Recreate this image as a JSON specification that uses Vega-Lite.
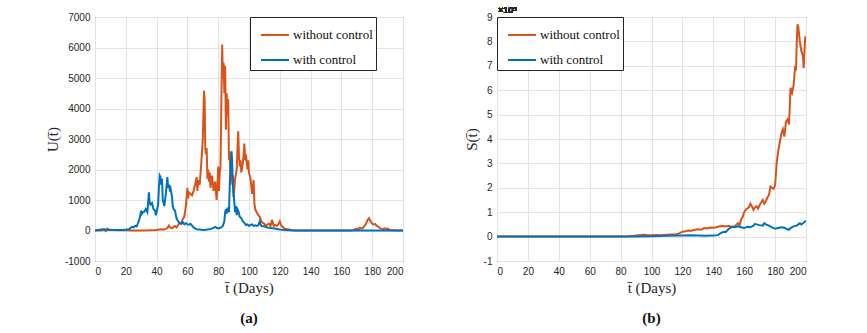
{
  "$schema": "https://vega.github.io/schema/vega-lite/v6.json",
  "background": "white",
  "padding": {"left": 44, "top": 5, "right": 5, "bottom": 5},
  "bounds": "flush",
  "spacing": 94,
  "config": {
    "font": "Liberation Sans",
    "view": {"stroke": "#262626", "strokeWidth": 1},
    "axis": {
      "grid": true, "gridColor": "#e3e3e3", "gridWidth": 1, "domain": false, "ticks": false, "labelOverlap": false,
      "labelFont": "Liberation Sans", "labelFontSize": 10, "labelColor": "#262626", "labelPadding": 5,
      "titleFont": "Liberation Serif", "titleFontWeight": "normal", "titleFontSize": 15, "titleColor": "#262626"
    },
    "legend": {
      "title": null, "strokeColor": "#262626", "fillColor": "white", "padding": 3,
      "symbolType": "stroke", "symbolSize": 784, "symbolStrokeWidth": 2, "symbolOffset": 7,
      "labelFont": "Liberation Serif", "labelFontSize": 13, "labelColor": "#111111", "labelOffset": 3, "rowPadding": 3
    },
    "title": {"font": "Liberation Serif", "fontSize": 15, "fontWeight": "bold", "color": "#111111", "orient": "bottom", "offset": 16}
  },
  "datasets": {
    "U": [
      {"t":0,"series":"without control","U":0},{"t":2,"series":"without control","U":10},{"t":4,"series":"without control","U":0},{"t":6,"series":"without control","U":20},{"t":7,"series":"without control","U":-20},{"t":8,"series":"without control","U":60},{"t":9,"series":"without control","U":30},{"t":12,"series":"without control","U":20},{"t":16,"series":"without control","U":10},{"t":20,"series":"without control","U":5},{"t":25,"series":"without control","U":0},{"t":30,"series":"without control","U":0},{"t":35,"series":"without control","U":5},{"t":40,"series":"without control","U":20},{"t":43,"series":"without control","U":40},{"t":45,"series":"without control","U":30},{"t":47,"series":"without control","U":80},{"t":48,"series":"without control","U":160},{"t":49,"series":"without control","U":90},{"t":50,"series":"without control","U":70},{"t":51,"series":"without control","U":120},{"t":52,"series":"without control","U":150},{"t":53,"series":"without control","U":100},{"t":54,"series":"without control","U":180},{"t":55,"series":"without control","U":250},{"t":56,"series":"without control","U":220},{"t":57,"series":"without control","U":380},{"t":58,"series":"without control","U":450},{"t":59,"series":"without control","U":800},{"t":60,"series":"without control","U":1400},{"t":60.5,"series":"without control","U":1050},{"t":61,"series":"without control","U":1250},{"t":62,"series":"without control","U":1200},{"t":63,"series":"without control","U":1150},{"t":64,"series":"without control","U":1300},{"t":65,"series":"without control","U":1500},{"t":66,"series":"without control","U":1750},{"t":66.5,"series":"without control","U":1300},{"t":67,"series":"without control","U":1650},{"t":68,"series":"without control","U":1500},{"t":69,"series":"without control","U":2200},{"t":70,"series":"without control","U":3000},{"t":70.8,"series":"without control","U":4580},{"t":71.2,"series":"without control","U":4300},{"t":71.6,"series":"without control","U":2700},{"t":72,"series":"without control","U":2500},{"t":72.5,"series":"without control","U":2700},{"t":73,"series":"without control","U":1700},{"t":73.5,"series":"without control","U":2000},{"t":74,"series":"without control","U":1600},{"t":74.5,"series":"without control","U":1900},{"t":75,"series":"without control","U":1400},{"t":76,"series":"without control","U":1800},{"t":77,"series":"without control","U":1300},{"t":78,"series":"without control","U":1600},{"t":79,"series":"without control","U":1000},{"t":79.5,"series":"without control","U":1500},{"t":80,"series":"without control","U":2100},{"t":80.5,"series":"without control","U":1300},{"t":81,"series":"without control","U":1900},{"t":81.5,"series":"without control","U":2100},{"t":82,"series":"without control","U":4000},{"t":82.6,"series":"without control","U":6100},{"t":83,"series":"without control","U":5000},{"t":83.5,"series":"without control","U":5500},{"t":84,"series":"without control","U":4500},{"t":84.5,"series":"without control","U":5400},{"t":85,"series":"without control","U":3300},{"t":85.5,"series":"without control","U":4500},{"t":86,"series":"without control","U":3800},{"t":86.5,"series":"without control","U":4300},{"t":87,"series":"without control","U":2300},{"t":87.5,"series":"without control","U":2600},{"t":88,"series":"without control","U":1500},{"t":88.5,"series":"without control","U":1900},{"t":89,"series":"without control","U":1600},{"t":89.5,"series":"without control","U":1800},{"t":90,"series":"without control","U":1100},{"t":91,"series":"without control","U":1700},{"t":92,"series":"without control","U":2000},{"t":93,"series":"without control","U":3250},{"t":93.5,"series":"without control","U":2400},{"t":94,"series":"without control","U":2100},{"t":94.5,"series":"without control","U":2300},{"t":95,"series":"without control","U":1900},{"t":96,"series":"without control","U":2200},{"t":97,"series":"without control","U":2850},{"t":97.5,"series":"without control","U":2300},{"t":98,"series":"without control","U":2500},{"t":99,"series":"without control","U":2000},{"t":99.5,"series":"without control","U":2300},{"t":100,"series":"without control","U":1900},{"t":101,"series":"without control","U":1700},{"t":102,"series":"without control","U":1200},{"t":102.5,"series":"without control","U":1400},{"t":103,"series":"without control","U":1650},{"t":103.5,"series":"without control","U":900},{"t":104,"series":"without control","U":700},{"t":105,"series":"without control","U":600},{"t":106,"series":"without control","U":500},{"t":107,"series":"without control","U":450},{"t":108,"series":"without control","U":300},{"t":109,"series":"without control","U":250},{"t":110,"series":"without control","U":220},{"t":111,"series":"without control","U":150},{"t":112,"series":"without control","U":200},{"t":113,"series":"without control","U":220},{"t":114,"series":"without control","U":150},{"t":115,"series":"without control","U":350},{"t":116,"series":"without control","U":150},{"t":117,"series":"without control","U":180},{"t":118,"series":"without control","U":150},{"t":119,"series":"without control","U":200},{"t":120,"series":"without control","U":300},{"t":121,"series":"without control","U":150},{"t":122,"series":"without control","U":120},{"t":123,"series":"without control","U":60},{"t":124,"series":"without control","U":50},{"t":126,"series":"without control","U":30},{"t":128,"series":"without control","U":10},{"t":130,"series":"without control","U":0},{"t":140,"series":"without control","U":0},{"t":150,"series":"without control","U":0},{"t":160,"series":"without control","U":0},{"t":166,"series":"without control","U":0},{"t":168,"series":"without control","U":20},{"t":170,"series":"without control","U":60},{"t":171,"series":"without control","U":40},{"t":172,"series":"without control","U":90},{"t":173,"series":"without control","U":70},{"t":174,"series":"without control","U":80},{"t":175,"series":"without control","U":150},{"t":176,"series":"without control","U":220},{"t":177,"series":"without control","U":350},{"t":178,"series":"without control","U":400},{"t":179,"series":"without control","U":300},{"t":180,"series":"without control","U":220},{"t":181,"series":"without control","U":200},{"t":182,"series":"without control","U":210},{"t":183,"series":"without control","U":150},{"t":184,"series":"without control","U":120},{"t":185,"series":"without control","U":80},{"t":186,"series":"without control","U":60},{"t":187,"series":"without control","U":40},{"t":188,"series":"without control","U":70},{"t":189,"series":"without control","U":50},{"t":190,"series":"without control","U":60},{"t":191,"series":"without control","U":30},{"t":192,"series":"without control","U":20},{"t":194,"series":"without control","U":10},{"t":196,"series":"without control","U":0},{"t":200,"series":"without control","U":0},
      {"t":0,"series":"with control","U":0},{"t":2,"series":"with control","U":20},{"t":4,"series":"with control","U":30},{"t":6,"series":"with control","U":40},{"t":8,"series":"with control","U":20},{"t":10,"series":"with control","U":20},{"t":14,"series":"with control","U":15},{"t":18,"series":"with control","U":20},{"t":22,"series":"with control","U":40},{"t":24,"series":"with control","U":120},{"t":25,"series":"with control","U":100},{"t":26,"series":"with control","U":150},{"t":27,"series":"with control","U":130},{"t":28,"series":"with control","U":250},{"t":29,"series":"with control","U":400},{"t":30,"series":"with control","U":650},{"t":30.5,"series":"with control","U":550},{"t":31,"series":"with control","U":600},{"t":32,"series":"with control","U":620},{"t":33,"series":"with control","U":700},{"t":34,"series":"with control","U":600},{"t":34.5,"series":"with control","U":900},{"t":35,"series":"with control","U":1250},{"t":35.5,"series":"with control","U":900},{"t":36,"series":"with control","U":850},{"t":37,"series":"with control","U":900},{"t":38,"series":"with control","U":700},{"t":39,"series":"with control","U":650},{"t":39.5,"series":"with control","U":500},{"t":40,"series":"with control","U":600},{"t":41,"series":"with control","U":850},{"t":41.5,"series":"with control","U":1400},{"t":42,"series":"with control","U":1800},{"t":42.5,"series":"with control","U":1750},{"t":43,"series":"with control","U":1500},{"t":43.5,"series":"with control","U":1700},{"t":44,"series":"with control","U":1000},{"t":45,"series":"with control","U":800},{"t":45.5,"series":"with control","U":1000},{"t":46,"series":"with control","U":1200},{"t":47,"series":"with control","U":1750},{"t":47.5,"series":"with control","U":1400},{"t":48,"series":"with control","U":1500},{"t":48.5,"series":"with control","U":1350},{"t":49,"series":"with control","U":1400},{"t":50,"series":"with control","U":1100},{"t":50.5,"series":"with control","U":800},{"t":51,"series":"with control","U":700},{"t":52,"series":"with control","U":650},{"t":52.5,"series":"with control","U":500},{"t":53,"series":"with control","U":400},{"t":54,"series":"with control","U":300},{"t":55,"series":"with control","U":250},{"t":56,"series":"with control","U":220},{"t":57,"series":"with control","U":270},{"t":58,"series":"with control","U":200},{"t":59,"series":"with control","U":240},{"t":60,"series":"with control","U":200},{"t":61,"series":"with control","U":190},{"t":62,"series":"with control","U":220},{"t":63,"series":"with control","U":160},{"t":64,"series":"with control","U":100},{"t":65,"series":"with control","U":70},{"t":66,"series":"with control","U":40},{"t":68,"series":"with control","U":30},{"t":70,"series":"with control","U":20},{"t":72,"series":"with control","U":25},{"t":74,"series":"with control","U":40},{"t":76,"series":"with control","U":60},{"t":78,"series":"with control","U":120},{"t":79,"series":"with control","U":90},{"t":80,"series":"with control","U":70},{"t":82,"series":"with control","U":100},{"t":83,"series":"with control","U":150},{"t":84,"series":"with control","U":300},{"t":84.5,"series":"with control","U":600},{"t":85,"series":"with control","U":700},{"t":85.5,"series":"with control","U":550},{"t":86,"series":"with control","U":750},{"t":87,"series":"with control","U":600},{"t":87.5,"series":"with control","U":1500},{"t":88,"series":"with control","U":2000},{"t":88.7,"series":"with control","U":2600},{"t":89.1,"series":"with control","U":2200},{"t":89.5,"series":"with control","U":1500},{"t":90,"series":"with control","U":1200},{"t":90.5,"series":"with control","U":900},{"t":91,"series":"with control","U":600},{"t":91.5,"series":"with control","U":800},{"t":92,"series":"with control","U":500},{"t":92.5,"series":"with control","U":700},{"t":93,"series":"with control","U":650},{"t":94,"series":"with control","U":450},{"t":95,"series":"with control","U":400},{"t":96,"series":"with control","U":300},{"t":97,"series":"with control","U":250},{"t":98,"series":"with control","U":180},{"t":99,"series":"with control","U":200},{"t":100,"series":"with control","U":150},{"t":101,"series":"with control","U":180},{"t":102,"series":"with control","U":200},{"t":103,"series":"with control","U":150},{"t":104,"series":"with control","U":170},{"t":105,"series":"with control","U":150},{"t":106,"series":"with control","U":170},{"t":107,"series":"with control","U":300},{"t":107.5,"series":"with control","U":200},{"t":108,"series":"with control","U":150},{"t":110,"series":"with control","U":130},{"t":112,"series":"with control","U":100},{"t":114,"series":"with control","U":80},{"t":116,"series":"with control","U":70},{"t":118,"series":"with control","U":50},{"t":120,"series":"with control","U":30},{"t":123,"series":"with control","U":15},{"t":126,"series":"with control","U":10},{"t":130,"series":"with control","U":0},{"t":200,"series":"with control","U":0}
    ],
    "S": [
      {"t":0,"series":"without control","S":0},{"t":80,"series":"without control","S":0},{"t":85,"series":"without control","S":1000},{"t":88,"series":"without control","S":3000},{"t":90,"series":"without control","S":5000},{"t":93,"series":"without control","S":7000},{"t":95,"series":"without control","S":8000},{"t":97,"series":"without control","S":7000},{"t":100,"series":"without control","S":6000},{"t":103,"series":"without control","S":7000},{"t":106,"series":"without control","S":6000},{"t":110,"series":"without control","S":8000},{"t":113,"series":"without control","S":9000},{"t":116,"series":"without control","S":10000},{"t":118,"series":"without control","S":13000},{"t":120,"series":"without control","S":20000},{"t":122,"series":"without control","S":22000},{"t":124,"series":"without control","S":25000},{"t":126,"series":"without control","S":24000},{"t":128,"series":"without control","S":28000},{"t":130,"series":"without control","S":30000},{"t":132,"series":"without control","S":28000},{"t":134,"series":"without control","S":35000},{"t":136,"series":"without control","S":33000},{"t":138,"series":"without control","S":37000},{"t":140,"series":"without control","S":36000},{"t":142,"series":"without control","S":38000},{"t":144,"series":"without control","S":42000},{"t":146,"series":"without control","S":43000},{"t":148,"series":"without control","S":41000},{"t":150,"series":"without control","S":44000},{"t":152,"series":"without control","S":40000},{"t":154,"series":"without control","S":42000},{"t":155,"series":"without control","S":50000},{"t":156,"series":"without control","S":55000},{"t":157,"series":"without control","S":45000},{"t":158,"series":"without control","S":70000},{"t":159,"series":"without control","S":80000},{"t":160,"series":"without control","S":100000},{"t":161,"series":"without control","S":110000},{"t":162,"series":"without control","S":115000},{"t":163,"series":"without control","S":120000},{"t":164,"series":"without control","S":135000},{"t":165,"series":"without control","S":125000},{"t":166,"series":"without control","S":110000},{"t":167,"series":"without control","S":120000},{"t":168,"series":"without control","S":125000},{"t":169,"series":"without control","S":115000},{"t":170,"series":"without control","S":130000},{"t":171,"series":"without control","S":140000},{"t":172,"series":"without control","S":150000},{"t":173,"series":"without control","S":135000},{"t":174,"series":"without control","S":145000},{"t":175,"series":"without control","S":160000},{"t":176,"series":"without control","S":170000},{"t":177,"series":"without control","S":205000},{"t":178,"series":"without control","S":200000},{"t":179,"series":"without control","S":195000},{"t":180,"series":"without control","S":210000},{"t":181,"series":"without control","S":300000},{"t":182,"series":"without control","S":350000},{"t":183,"series":"without control","S":385000},{"t":184,"series":"without control","S":420000},{"t":185,"series":"without control","S":440000},{"t":186,"series":"without control","S":410000},{"t":187,"series":"without control","S":470000},{"t":188,"series":"without control","S":480000},{"t":189,"series":"without control","S":460000},{"t":190,"series":"without control","S":610000},{"t":191,"series":"without control","S":590000},{"t":192,"series":"without control","S":620000},{"t":193,"series":"without control","S":700000},{"t":193.5,"series":"without control","S":680000},{"t":194,"series":"without control","S":790000},{"t":194.5,"series":"without control","S":870000},{"t":195,"series":"without control","S":860000},{"t":196,"series":"without control","S":800000},{"t":197,"series":"without control","S":760000},{"t":198,"series":"without control","S":740000},{"t":198.5,"series":"without control","S":690000},{"t":199,"series":"without control","S":760000},{"t":199.5,"series":"without control","S":820000},{"t":200,"series":"without control","S":800000},
      {"t":0,"series":"with control","S":0},{"t":90,"series":"with control","S":0},{"t":100,"series":"with control","S":1000},{"t":110,"series":"with control","S":3000},{"t":120,"series":"with control","S":5000},{"t":125,"series":"with control","S":6000},{"t":130,"series":"with control","S":5000},{"t":135,"series":"with control","S":3000},{"t":140,"series":"with control","S":5000},{"t":143,"series":"with control","S":6000},{"t":145,"series":"with control","S":15000},{"t":147,"series":"with control","S":20000},{"t":148,"series":"with control","S":18000},{"t":150,"series":"with control","S":32000},{"t":152,"series":"with control","S":40000},{"t":154,"series":"with control","S":38000},{"t":156,"series":"with control","S":42000},{"t":158,"series":"with control","S":38000},{"t":160,"series":"with control","S":35000},{"t":162,"series":"with control","S":40000},{"t":164,"series":"with control","S":38000},{"t":166,"series":"with control","S":45000},{"t":167,"series":"with control","S":52000},{"t":168,"series":"with control","S":50000},{"t":170,"series":"with control","S":47000},{"t":172,"series":"with control","S":45000},{"t":173,"series":"with control","S":55000},{"t":174,"series":"with control","S":50000},{"t":176,"series":"with control","S":45000},{"t":178,"series":"with control","S":38000},{"t":180,"series":"with control","S":32000},{"t":182,"series":"with control","S":35000},{"t":184,"series":"with control","S":38000},{"t":186,"series":"with control","S":36000},{"t":188,"series":"with control","S":30000},{"t":189,"series":"with control","S":28000},{"t":190,"series":"with control","S":35000},{"t":192,"series":"with control","S":42000},{"t":194,"series":"with control","S":45000},{"t":195,"series":"with control","S":50000},{"t":196,"series":"with control","S":55000},{"t":197,"series":"with control","S":50000},{"t":198,"series":"with control","S":55000},{"t":199,"series":"with control","S":60000},{"t":200,"series":"with control","S":65000}
    ]
  },
  "hconcat": [
    {
      "width": 308, "height": 244,
      "title": {"text": "(a)"},
      "data": {"name": "U"},
      "mark": {"type": "line", "strokeWidth": 2, "clip": true},
      "encoding": {
        "x": {"field": "t", "type": "quantitative", "scale": {"domain": [0, 200], "nice": false},
              "axis": {"values": [0,20,40,60,80,100,120,140,160,180,200], "title": "t̄ (Days)", "titlePadding": 4}},
        "y": {"field": "U", "type": "quantitative", "scale": {"domain": [-1000, 7000], "nice": false},
              "axis": {"values": [-1000,0,1000,2000,3000,4000,5000,6000,7000], "labelExpr": "datum.value + ''", "title": "U(t̄)", "titlePadding": 4}},
        "color": {"field": "series", "type": "nominal",
                  "scale": {"domain": ["without control", "with control"], "range": ["#D95319", "#0072BD"]},
                  "legend": {"orient": "none", "legendX": 155, "legendY": 0}}
      }
    },
    {
      "width": 309, "height": 244,
      "title": {"text": "(b)"},
      "data": {"name": "S"},
      "layer": [
        {
          "mark": {"type": "line", "strokeWidth": 2, "clip": true},
          "encoding": {
            "x": {"field": "t", "type": "quantitative", "scale": {"domain": [0, 200], "nice": false},
                  "axis": {"values": [0,20,40,60,80,100,120,140,160,180,200], "title": "t̄ (Days)", "titlePadding": 4, "labelOverlap": false}},
            "y": {"field": "S", "type": "quantitative", "scale": {"domain": [-100000, 900000], "nice": false},
                  "axis": {"values": [-100000,0,100000,200000,300000,400000,500000,600000,700000,800000,900000], "labelExpr": "(datum.value / 100000) + ''", "title": "S(t̄)", "titlePadding": 4, "labelOverlap": false}},
            "color": {"field": "series", "type": "nominal",
                      "scale": {"domain": ["without control", "with control"], "range": ["#D95319", "#0072BD"]},
                      "legend": {"orient": "none", "legendX": 0, "legendY": 0}}
          }
        },
        {
          "mark": {"type": "text", "align": "left", "baseline": "bottom", "dx": 1, "dy": -2, "fontSize": 9, "color": "#262626", "clip": false},
          "encoding": {
            "x": {"datum": 0, "type": "quantitative", "scale": {"domain": [0, 200], "nice": false},
                  "axis": {"values": [0,20,40,60,80,100,120,140,160,180,200], "title": "t̄ (Days)", "titlePadding": 4, "labelOverlap": false}},
            "y": {"datum": 900000, "type": "quantitative", "scale": {"domain": [-100000, 900000], "nice": false},
                  "axis": {"values": [-100000,0,100000,200000,300000,400000,500000,600000,700000,800000,900000], "labelExpr": "(datum.value / 100000) + ''", "title": "S(t̄)", "titlePadding": 4, "labelOverlap": false}},
            "text": {"value": "×10⁵"}
          }
        }
      ]
    }
  ],
  "resolve": {"legend": {"color": "independent"}}
}
